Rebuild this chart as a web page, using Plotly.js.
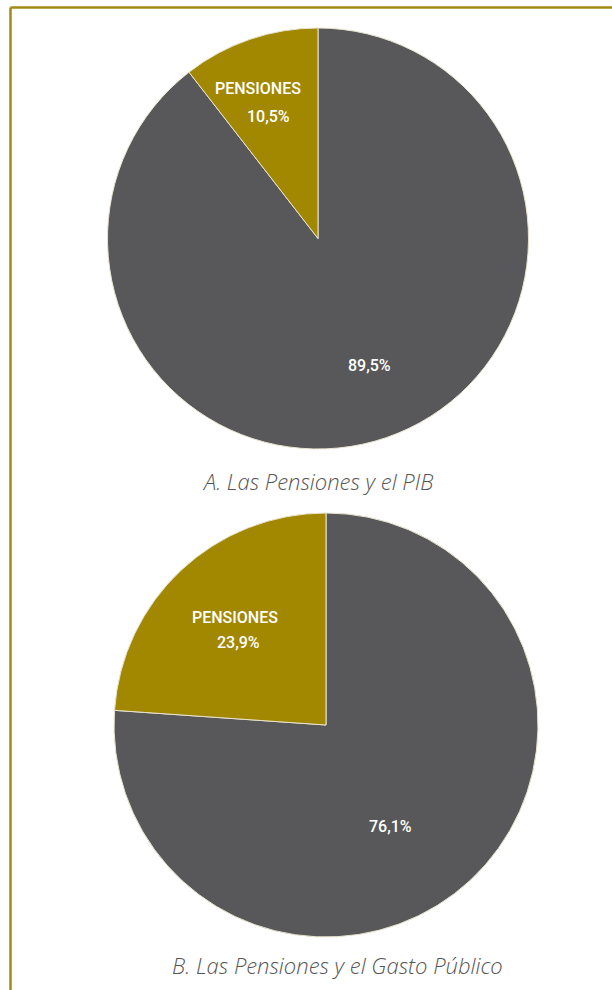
<!DOCTYPE html>
<html>
<head>
<meta charset="utf-8">
<script src="https://cdn.plot.ly/plotly-3.0.1.min.js"></script>
<style>html,body{margin:0;padding:0;background:#fff;}#chart{width:612px;height:990px;}</style>
</head>
<body>
<div id="chart"></div>
<script>
// Data (drawn clockwise from 12 o'clock: "Resto" first, "PENSIONES" last)
const labels = ["Resto", "PENSIONES"];
const valuesPIB = [89.5, 10.5];
const valuesGasto = [76.1, 23.9];
const titles = ["A. Las Pensiones y el PIB", "B. Las Pensiones y el Gasto Público"];
const colors = ["#58585a", "#a28800"];

function pct(v) { return v.toFixed(1).replace(".", ",") + "%"; }

function pie(values, domain) {
  return {
    type: "pie",
    labels: labels,
    values: values,
    sort: false,
    direction: "clockwise",
    rotation: 0,
    domain: domain,
    marker: {colors: colors, line: {color: "#e8e4d0", width: 1}},
    textinfo: "none",
    hoverinfo: "none",
    showlegend: false
  };
}

const data = [
  pie(valuesPIB, {x: [107/612, 529/612], y: [1 - 449/990, 1 - 28/990]}),
  pie(valuesGasto, {x: [114/612, 538/612], y: [1 - 937/990, 1 - 513/990]})
];

const titleFont = {family: "Open Sans, sans-serif", size: 22, color: "#555555", style: "italic", weight: 300};
const labelFont = {family: "Roboto, sans-serif", size: 16, color: "#ffffff", weight: 500};

function ann(text, px, py, font) {
  return {text: text, xref: "paper", yref: "paper", x: px/612, y: 1 - py/990,
          xanchor: "center", yanchor: "middle", showarrow: false, font: font};
}

const layout = {
  width: 612, height: 990,
  margin: {l: 0, r: 0, t: 0, b: 0},
  paper_bgcolor: "#ffffff",
  showlegend: false,
  shapes: [
    {type: "line", xref: "paper", yref: "paper", x0: 10.5/612, x1: 10.5/612, y0: -0.01, y1: 1 - 7.5/990,
     line: {color: "#a38a12", width: 2.5}},
    {type: "line", xref: "paper", yref: "paper", x0: 10.5/612, x1: 1.01, y0: 1 - 7.5/990, y1: 1 - 7.5/990,
     line: {color: "#a38a12", width: 2.5}}
  ],
  annotations: [
    ann(titles[0], 317, 481, titleFont),
    ann(titles[1], 337, 965, titleFont),
    ann(labels[1], 258, 88, labelFont),
    ann(pct(valuesPIB[1]), 268, 117, labelFont),
    ann(pct(valuesPIB[0]), 369, 366, labelFont),
    ann(labels[1], 235, 617, labelFont),
    ann(pct(valuesGasto[1]), 238, 642, labelFont),
    ann(pct(valuesGasto[0]), 390, 826, labelFont)
  ]
};

Plotly.newPlot("chart", data, layout, {displayModeBar: false, staticPlot: true});
</script>
</body>
</html>
